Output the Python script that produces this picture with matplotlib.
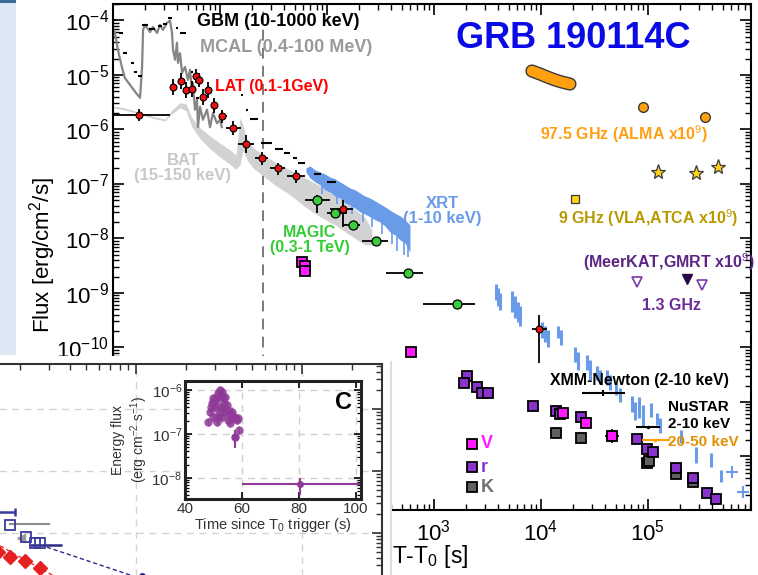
import numpy as np
import matplotlib.pyplot as plt
from matplotlib import font_manager
from matplotlib.ticker import LogLocator, NullFormatter, FixedLocator, FuncFormatter
from matplotlib.patches import Rectangle
from matplotlib.lines import Line2D

plt.rcParams['font.family'] = ['Liberation Sans', 'DejaVu Sans']
plt.rcParams['mathtext.fontset'] = 'custom'
plt.rcParams['mathtext.rm'] = 'Liberation Sans'
plt.rcParams['mathtext.it'] = 'Liberation Sans:italic'
plt.rcParams['mathtext.bf'] = 'Liberation Sans:bold'

# ---------------- main panel data (time [s], flux [erg/cm2/s]) ----------------
gbm_t = [1.04, 1.19, 1.29, 1.51, 1.61, 1.79, 1.99, 2.31, 2.75, 3.06, 3.41, 3.96, 4.51,
         5.47, 6.10, 6.23, 16.1, 17.9, 20.8, 27.5, 35.6, 42.3, 50.2, 58.4, 82.4, 111]
gbm_f = [1.02e-4, 5.9e-5, 2.5e-5, 1.66e-5, 1.14e-5, 9.6e-6, 8.3e-5, 7.0e-5, 7.9e-5, 8.6e-5,
         1.1e-4, 7.3e-5, 5.9e-5, 1.14e-5, 8.8e-6, 3.8e-6, 4.3e-6, 2.3e-6, 1.56e-6, 5.7e-7,
         4.4e-7, 3.7e-7, 3.0e-7, 2.4e-7, 1.5e-7, 1.09e-7]
gbm_dt = [0.03, 0.04, 0.05, 0.05, 0.05, 0.06, 0.12, 0.15, 0.1, 0.12, 0.12, 0.05, 0.3,
          0.1, 0.2, 0.2, 0.35, 0.5, 1.8, 3.3, 3.0, 3.0, 2.5, 4.5, 6.5, 11]

mcal_t = [1.00, 1.04, 1.11, 1.21, 1.29, 1.44, 1.61, 1.79, 1.87, 1.91, 1.99, 2.22, 2.36, 2.58,
          2.75, 2.93, 3.20, 3.41, 3.56, 3.64, 3.80, 3.96, 4.05, 4.23, 4.42, 4.71, 5.02, 5.24,
          5.47, 5.59, 5.84, 6.10, 6.23, 6.50, 6.93, 7.56, 8.07, 8.60, 9.37, 10.0, 10.4]
mcal_f = [7.0e-5, 6.1e-5, 2.9e-5, 1.4e-5, 8.8e-6, 6.6e-6, 4.9e-6, 3.8e-6, 1.4e-5, 6.7e-5,
          8.3e-5, 6.1e-5, 7.6e-5, 5.9e-5, 8.3e-5, 6.7e-5, 9.0e-5, 1.0e-4, 5.9e-5, 2.9e-5,
          1.9e-5, 3.9e-5, 1.66e-5, 2.5e-5, 1.09e-5, 1.4e-5, 8.1e-6, 1.24e-5, 5.3e-6, 7.1e-6,
          2.3e-6, 3.5e-6, 1.1e-6, 2.6e-6, 1.5e-6, 2.3e-6, 1.1e-6, 2.0e-6, 1.3e-6, 1.5e-6, 1.1e-6]

bat_t = [1.00, 1.29, 1.61, 1.99, 2.47, 3.06, 3.56, 4.23, 4.81, 5.47, 6.50, 8.07, 10.0, 12.4,
         14.1, 15.4, 16.4, 17.9, 20.4, 24.7, 32.6, 45.2, 62.5, 86.1, 118.8, 164.1, 226.5, 263.4]
bat_hi = [2.70e-6, 2.48e-6, 2.18e-6, 1.92e-6, 1.70e-6, 1.56e-6, 2.28e-6, 3.1e-6, 2.94e-6,
          1.63e-6, 1.07e-6, 7.6e-7, 5.6e-7, 4.2e-7, 3.4e-7, 1.63e-6, 1.21e-6, 6.4e-7, 4.6e-7,
          3.55e-7, 2.53e-7, 1.81e-7, 1.29e-7, 9.2e-8, 6.3e-8, 4.1e-8, 2.4e-8, 1.43e-8]
bat_lo = [2.48e-6, 2.28e-6, 2.01e-6, 1.77e-6, 1.56e-6, 1.43e-6, 1.95e-6, 2.50e-6, 2.20e-6,
          1.10e-6, 6.8e-7, 4.4e-7, 3.1e-7, 2.3e-7, 1.85e-7, 2.23e-7, 4.2e-7, 2.75e-7, 1.97e-7,
          1.46e-7, 9.6e-8, 6.3e-8, 3.8e-8, 2.5e-8, 1.77e-8, 1.16e-8, 7.6e-9, 7.6e-9]

lat_t = [1.75, 3.64, 4.32, 4.81, 5.47, 5.97, 6.37, 6.93, 7.72, 8.79, 10.4, 13.2, 17.5, 24.7,
         34.8, 51.3, 141, 9580]
lat_f = [1.85e-6, 6.0e-6, 7.8e-6, 5.3e-6, 5.5e-6, 9.6e-6, 8.1e-6, 3.95e-6, 5.3e-6, 2.82e-6,
         1.77e-6, 1.07e-6, 5.42e-7, 3.0e-7, 1.97e-7, 1.4e-7, 3.5e-8, 2.18e-10]
lat_tlo = [1.0, 3.45, 4.12, 4.6, 5.25, 5.75, 6.15, 6.7, 7.45, 8.5, 9.8, 11.4, 14.7, 21.2,
           29.3, 42.3, 107, 8240]
lat_thi = [3.41, 3.85, 4.55, 5.05, 5.7, 6.2, 6.6, 7.2, 8.0, 9.1, 11.6, 15.7, 20.8, 28.1,
           40.3, 62.5, 175, 11380]
lat_flo = [1.43e-6, 4.3e-6, 5.5e-6, 3.8e-6, 3.95e-6, 7.1e-6, 6.0e-6, 2.82e-6, 3.8e-6, 2.0e-6,
           1.32e-6, 7.9e-7, 3.7e-7, 2.23e-7, 1.46e-7, 1.04e-7, 1.63e-8, 5.2e-11]
lat_fhi = [2.38e-6, 8.45e-6, 1.09e-5, 7.4e-6, 7.8e-6, 1.29e-5, 1.09e-5, 5.5e-6, 7.4e-6, 3.8e-6,
           2.28e-6, 1.43e-6, 7.9e-7, 3.9e-7, 2.43e-7, 1.81e-7, 5.1e-8, 3.95e-10]

magic_t = [80.6, 119, 175, 287, 571, 1641]
magic_f = [5.1e-8, 2.9e-8, 1.77e-8, 9.0e-9, 2.33e-9, 6.3e-10]
magic_tlo = [62.5, 101, 138, 212, 356, 789]
magic_thi = [107, 153, 204, 372, 789, 2416]
magic_flo = [2.9e-8, 2.5e-8, 1.6e-8, 8.0e-9, 2.1e-9, 5.7e-10]
magic_fhi = [6.3e-8, 3.4e-8, 2.0e-8, 1.0e-8, 2.6e-9, 7.0e-10]

xrt_band_t = [63.6, 69.4, 77.3, 86.1, 95.8, 106.7, 118.8, 132.3, 147.3, 164.1, 182.7, 203.4,
              226.5, 252.3, 280.9, 312.8, 348.4, 388.0, 432.0, 481.2, 535.8, 596.7]
xrt_band_hi = [1.97e-7, 2.14e-7, 1.81e-7, 1.66e-7, 1.52e-7, 1.34e-7, 1.24e-7, 1.09e-7, 9.6e-8,
               8.4e-8, 7.8e-8, 6.8e-8, 6.0e-8, 5.5e-8, 4.9e-8, 4.3e-8, 3.8e-8, 3.3e-8, 2.9e-8,
               2.6e-8, 2.2e-8, 1.77e-8]
xrt_band_lo = [1.66e-7, 1.29e-7, 1.09e-7, 9.6e-8, 7.8e-8, 7.1e-8, 6.0e-8, 5.5e-8, 4.5e-8,
               4.1e-8, 3.6e-8, 3.06e-8, 2.8e-8, 2.5e-8, 2.2e-8, 2.0e-8, 1.69e-8, 1.31e-8,
               1.16e-8, 9.4e-9, 8.3e-9, 5.6e-9]
# streaks hanging below the dense XRT band
xrt_streak_t = [90, 125, 170, 215, 265, 330, 405, 455, 520, 570]
xrt_streak_hi = [1.2e-7, 8.0e-8, 6.0e-8, 4.5e-8, 3.8e-8, 3.0e-8, 2.0e-8, 1.6e-8, 1.2e-8, 9.0e-9]
xrt_streak_lo = [6.5e-8, 4.2e-8, 2.8e-8, 2.0e-8, 1.6e-8, 1.2e-8, 8.0e-9, 6.0e-9, 5.0e-9, 4.5e-9]

xrt_t = [3797, 3964, 4139, 5358, 5715, 6095, 6364, 10216, 10897, 11628, 14416, 15382, 20792,
         22174, 26914, 28706, 33380, 35600, 41390, 44150, 50220, 54730, 70890, 75600, 82410,
         89800, 106700, 121400, 129500, 203400, 280900, 388000, 481200]
xrt_hi = [1.46e-9, 1.24e-9, 1.0e-9, 1.09e-9, 8.8e-10, 6.8e-10, 5.8e-10, 2.9e-10, 2.48e-10,
          2.1e-10, 2.48e-10, 2.1e-10, 1.02e-10, 8.3e-11, 7.3e-11, 5.9e-11, 4.6e-11, 3.9e-11,
          3.9e-11, 3.1e-11, 2.23e-11, 1.81e-11, 1.29e-11, 1.0e-11, 1.24e-11, 8.8e-12, 9.6e-12,
          6.3e-12, 5.1e-12, 3.06e-12, 1.49e-12, 1.16e-12, 5.6e-13]
xrt_lo = [7.4e-10, 5.8e-10, 4.9e-10, 4.5e-10, 3.5e-10, 2.9e-10, 2.48e-10, 1.49e-10, 1.26e-10,
          1.02e-10, 1.49e-10, 1.11e-10, 5.4e-11, 3.9e-11, 3.9e-11, 2.5e-11, 2.5e-11, 2.14e-11,
          2.05e-11, 1.66e-11, 1.34e-11, 1.0e-11, 6.6e-12, 4.7e-12, 5.1e-12, 3.5e-12, 5.3e-12,
          3.8e-12, 2.7e-12, 1.77e-12, 7.6e-13, 6.4e-13, 3.4e-13]
xrt_cross_t = [609500, 772800]
xrt_cross_f = [5.2e-13, 2.23e-13]

opt_r_t = [2034, 1907, 2523, 2811, 3199, 8420, 13800, 15060, 23660, 78900, 97900, 111400,
           182800, 263600, 356000, 432100]
opt_r_f = [3.0e-11, 2.23e-11, 1.88e-11, 1.46e-11, 1.46e-11, 8.4e-12, 6.8e-12, 6.0e-12, 5.3e-12,
           2.1e-12, 1.37e-12, 1.21e-12, 6.2e-13, 4.0e-13, 2.14e-13, 1.66e-13]
opt_v_t = [58.4, 62.3, 62.3, 610, 16060, 26340, 46100]
opt_v_f = [3.7e-9, 3.1e-9, 2.5e-9, 8.3e-11, 6.3e-12, 4.1e-12, 2.4e-12]
opt_k_t = [13800, 23660, 97900, 102100, 182800, 263600]
opt_k_f = [2.7e-12, 2.2e-12, 7.6e-13, 8.3e-13, 4.8e-13, 3.4e-13]

xmm_t, xmm_tlo, xmm_thi, xmm_f = 37960, 24160, 60980, 1.46e-11
nustar_t, nustar_tlo, nustar_thi, nustar_f = 100000, 77270, 129500, 3.5e-12
nustar_hard_t, nustar_hard_tlo, nustar_hard_thi, nustar_hard_f = 116200, 87900, 160600, 2.0e-12

alma_curve_t = [8240, 9790, 11380, 13510, 15710, 18670]
alma_curve_f = [1.18e-5, 1.04e-5, 9.2e-6, 8.1e-6, 7.4e-6, 6.8e-6]
alma_t = [89800, 341000]
alma_f = [2.59e-6, 1.70e-6]
vla_star_t = [124000, 281000, 451000]
vla_star_f = [1.66e-7, 1.59e-7, 2.05e-7]
vla_sq_t, vla_sq_f = 20790, 5.3e-8
meer_open_t = [78900, 319800]
meer_open_f = [1.59e-9, 1.40e-9]
meer_fill_t, meer_fill_f = 231300, 1.81e-9

# ---------------- lower-left panel data ----------------
lp_sq_t = [1.74, 2.17, 2.46, 2.64]
lp_sq_f = [1.35e-7, 8.6e-8, 6.9e-8, 6.9e-8]
lp_edge_t, lp_edge_thi, lp_edge_f = 1.42, 1.87, 2.18e-7
lp_sqbar_t, lp_sqbar_tlo, lp_sqbar_thi, lp_sqbar_f = 2.64, 2.3, 3.58, 6.5e-8
lp_model_t = [2.91, 21.1]
lp_model_f = [5.9e-8, 1.0e-8]
lp_bin_t, lp_bin_tlo, lp_bin_thi, lp_bin_f = 10.9, 3.63, 17.7, 2.02e-8
lp_grey_t = [1.74, 2.99]
lp_grey_f = [1.40e-7, 1.40e-7]
lp_grey_arrow_t, lp_grey_arrow_f = 2.03, 8.3e-8
lp_red_t = [1.48, 1.74, 2.14, 2.64]
lp_red_f = [4.9e-8, 4.1e-8, 3.5e-8, 2.7e-8]
lp_red_line_t = [1.52, 4.0]
lp_red_line_f = [6.2e-8, 1.45e-8]

# inset C
c_t = [48.1, 48.8, 49.5, 49.8, 50.5, 51.2, 51.6, 52.3, 53.0, 53.3, 54.0, 54.7, 55.1, 55.8,
       56.5, 56.8, 57.5, 58.2, 58.6, 51.6, 53.0, 49.8, 51.2, 52.3, 54.0, 55.1, 55.8, 58.9,
       49.0, 50.0, 50.8, 52.8, 53.8, 52.0, 53.5, 56.0, 57.0]
c_f = [1.87e-7, 3.2e-7, 5.1e-7, 6.6e-7, 4.1e-7, 6.9e-7, 8.5e-7, 1.0e-6, 9.0e-7, 6.6e-7,
       6.9e-7, 4.6e-7, 3.5e-7, 2.7e-7, 3.2e-7, 2.4e-7, 2.3e-7, 2.1e-7, 2.3e-7, 2.4e-7,
       2.4e-7, 2.4e-7, 1.87e-7, 4.1e-7, 3.2e-7, 2.1e-7, 1.78e-7, 1.23e-7,
       4.0e-7, 5.5e-7, 6.0e-7, 7.5e-7, 5.0e-7, 3.0e-7, 3.8e-7, 2.2e-7, 2.6e-7]
c_iso_t, c_iso_f, c_iso_flo, c_iso_fhi = 57.5, 8.5e-8, 4.8e-8, 1.23e-7
c_late_t, c_late_tlo, c_late_thi = 80.4, 60.0, 102.0
c_late_f, c_late_flo, c_late_fhi = 7.3e-9, 4.1e-9, 1.0e-8

W, H = 758, 575


def fr(x0, y0, x1, y1):
    return [x0 / W, 1 - y1 / H, (x1 - x0) / W, (y1 - y0) / H]


def ftext(x, y, s, **kw):
    kw.setdefault('va', 'center')
    kw.setdefault('ha', 'left')
    return fig.text(x / W, 1 - y / H, s, **kw)


def asym(v, lo, hi):
    v, lo, hi = np.asarray(v), np.asarray(lo), np.asarray(hi)
    return [v - lo, hi - v]


def decade_label(lo, hi):
    # only decades that are not hidden behind the overlapping panel get a label
    def f(v, pos):
        if v <= 0:
            return ''
        e = int(round(np.log10(v)))
        if lo <= e <= hi:
            return r'$\mathdefault{10^{%d}}$' % e
        return ''
    return FuncFormatter(f)


fig = plt.figure(figsize=(7.58, 5.75), dpi=100)

# ---------------- main panel ----------------
ax = fig.add_axes(fr(113, 4, 751, 510))
ax.set_xscale('log')
ax.set_yscale('log')
ax.set_xlim(1, 9.2e5)
ax.set_ylim(1.04e-13, 2.0e-4)
for a in (ax.xaxis, ax.yaxis):
    a.set_major_locator(LogLocator(base=10, numticks=30))
    a.set_minor_locator(LogLocator(base=10, subs=np.arange(2, 10), numticks=300))
    a.set_minor_formatter(NullFormatter())
ax.xaxis.set_major_formatter(decade_label(3, 6))
ax.yaxis.set_major_formatter(decade_label(-10, -4))
ax.tick_params(which='both', direction='in', top=True, right=True, labelsize=16)
ax.tick_params(which='major', length=8, width=1.2)
ax.tick_params(which='minor', length=4, width=1)
ax.tick_params(axis='y', pad=3)
ax.tick_params(axis='x', pad=7)
for s in ax.spines.values():
    s.set_linewidth(1.5)

ax.axvline(25.2, color='#707070', ls=(0, (6, 4)), lw=1.3, zorder=1)

ax.fill_between(bat_t, bat_lo, bat_hi, color='#d2d2d2', lw=0, zorder=1)
ax.plot(mcal_t, mcal_f, color='#858585', lw=1.6, zorder=2)
ax.fill_between(xrt_band_t, xrt_band_lo, xrt_band_hi, color='#6a9be8', lw=0, zorder=2)
ax.vlines(xrt_streak_t, xrt_streak_lo, xrt_streak_hi, color='#6a9be8', lw=1.2, zorder=2)
ax.vlines(xrt_t, xrt_lo, xrt_hi, color='#6a9be8', lw=2.2, zorder=2)
ax.plot(xrt_cross_t, xrt_cross_f, '+', color='#6a9be8', ms=8, mew=1.5, zorder=2)

ax.errorbar(gbm_t, gbm_f, xerr=gbm_dt, fmt='none', ecolor='black', elinewidth=1.5, zorder=3)

ax.errorbar(lat_t, lat_f, xerr=asym(lat_t, lat_tlo, lat_thi), yerr=asym(lat_f, lat_flo, lat_fhi),
            fmt='o', ms=5, mfc='#ee1111', mec='black', mew=0.8, ecolor='black', elinewidth=1.3,
            zorder=5)
ax.errorbar(magic_t, magic_f, xerr=asym(magic_t, magic_tlo, magic_thi),
            yerr=asym(magic_f, magic_flo, magic_fhi), fmt='o', ms=6.5, mfc='#3ccc3c',
            mec='black', mew=0.9, ecolor='black', elinewidth=1.3, zorder=5)

sq = dict(marker='s', ls='none', ms=6.5, mec='black', mew=1.3, zorder=4)
ax.plot(opt_k_t, opt_k_f, mfc='#606060', **sq)
ax.plot(opt_r_t, opt_r_f, mfc='#8a33cc', **sq)
ax.plot(opt_v_t, opt_v_f, mfc='#ff1aff', **sq)
ax.errorbar([opt_v_t[-1]], [opt_v_f[-1]], xerr=[[6500], [7600]], yerr=[[0.6e-12], [0.8e-12]],
            fmt='none', ecolor='black', elinewidth=1.2, zorder=3)

ax.errorbar([xmm_t], [xmm_f], xerr=asym([xmm_t], [xmm_tlo], [xmm_thi]), yerr=[[0.15e-11], [0.2e-11]],
            fmt='none', ecolor='black', elinewidth=1.5, zorder=4)
ax.errorbar([nustar_t], [nustar_f], xerr=asym([nustar_t], [nustar_tlo], [nustar_thi]),
            fmt='.', ms=3, color='black', elinewidth=1.5, zorder=4)
ax.errorbar([nustar_hard_t], [nustar_hard_f],
            xerr=asym([nustar_hard_t], [nustar_hard_tlo], [nustar_hard_thi]),
            fmt='.', ms=3, color='#ffa000', elinewidth=1.5, zorder=4)

ax.plot(alma_curve_t, alma_curve_f, color='#3a3a3a', lw=9.5, solid_capstyle='round', zorder=4)
ax.plot(alma_curve_t, alma_curve_f, color='#ffa010', lw=7.5, solid_capstyle='round', zorder=4)
ax.plot(alma_t, alma_f, 'o', ms=7, mfc='#ffa010', mec='#3a3a3a', mew=1, zorder=4)
ax.plot(vla_star_t, vla_star_f, '*', ms=11, mfc='#ffd21a', mec='#3a3a3a', mew=0.9, zorder=4)
ax.plot([vla_sq_t], [vla_sq_f], 's', ms=6, mfc='#ffd21a', mec='#3a3a3a', mew=0.9, zorder=4)
ax.plot(meer_open_t, meer_open_f, 'v', ms=7, mfc='white', mec='#7a3aa8', mew=1.2, zorder=4)
ax.plot([meer_fill_t], [meer_fill_f], 'v', ms=7, mfc='#2a0a4a', mec='#2a0a4a', zorder=4)

# legend for optical bands
for yy, col, lab, tcol in [(444, '#ff1aff', 'V', '#ff1aff'), (467, '#8a33cc', 'r', '#8a33cc'),
                           (487, '#606060', 'K', '#707070')]:
    ax.plot([(472 - 113) / 638], [(510 - yy) / 506], 's', transform=ax.transAxes, ms=6.5,
            mfc=col, mec='black', mew=1.3, clip_on=False, zorder=6)
    ftext(481, yy, lab, color=tcol, fontsize=13, weight='bold')

# labels of the main panel
ftext(197, 22, 'GBM (10-1000 keV)', fontsize=13, weight='bold')
ftext(200, 48, 'MCAL (0.4-100 MeV)', fontsize=13, weight='bold', color='#9a9a9a')
ftext(215, 86, 'LAT (0.1-1GeV)', fontsize=11.5, weight='bold', color='#ff0000')
ftext(183, 168, 'BAT\n(15-150 keV)', fontsize=12, weight='bold', color='#c8c8c8', ha='center',
      linespacing=1.0, multialignment='center')
ftext(310, 240, 'MAGIC\n(0.3-1 TeV)', fontsize=11.5, weight='bold', color='#33cc33', ha='center',
      linespacing=1.0, multialignment='center')
ftext(442, 211, 'XRT\n(1-10 keV)', fontsize=12, weight='bold', color='#6a9be8', ha='center',
      linespacing=1.0, multialignment='center')
ftext(540, 134, '97.5 GHz (ALMA x10$^{9}$)', fontsize=11.5, weight='bold', color='#ffa010')
ftext(558, 218, '9 GHz (VLA,ATCA x10$^{9}$)', fontsize=11.5, weight='bold', color='#b89a00')
ftext(583, 262, '(MeerKAT,GMRT x10$^{9}$)', fontsize=11.5, weight='bold', color='#5c2483')
ftext(642, 305, '1.3 GHz', fontsize=11.5, weight='bold', color='#6a2c9a')
ftext(550, 380, 'XMM-Newton (2-10 keV)', fontsize=11.4, weight='bold')
ftext(668, 407, 'NuSTAR', fontsize=11, weight='bold')
ftext(668, 424, '2-10 keV', fontsize=11, weight='bold')
ftext(668, 442, '20-50 keV', fontsize=11, weight='bold', color='#e09000')

names = {f.name for f in font_manager.fontManager.ttflist}
if 'Liberation Sans Narrow' in names:
    ftext(573, 38, 'GRB 190114C', fontsize=30, weight='bold', color='#0a0ae6', ha='center',
          family='Liberation Sans Narrow')
else:
    ftext(573, 38, 'GRB 190114C', fontsize=26, weight='bold', color='#0a0ae6', ha='center')
ftext(43, 255, 'Flux [erg/cm$^2$/s]', fontsize=16, rotation=90, ha='center')
ftext(392, 557, 'T-T$_0$ [s]', fontsize=16.5)

# pale blue slide strip at top-left
fig.add_artist(Rectangle((0, 1 - 355 / H), 16 / W, 355 / H, transform=fig.transFigure,
                         facecolor='#dce8f4', edgecolor='none', zorder=1))
fig.add_artist(Rectangle((0, 1 - 3 / H), 16 / W, 3 / H, transform=fig.transFigure,
                         facecolor='#3d6b99', edgecolor='none', zorder=1))

# white cover of the overlapping lower panel
cover = fig.add_axes(fr(0, 356, 392, 575))
cover.set_zorder(5)
cover.set_xticks([])
cover.set_yticks([])
for s in cover.spines.values():
    s.set_visible(False)
cover.patch.set_facecolor('white')
fig.add_artist(Line2D([391 / W, 391 / W], [0, 1 - 362 / H], transform=fig.transFigure,
                      color='#dcdcdc', lw=1.5, zorder=5.5))

# ---------------- lower-left panel ----------------
lp = fig.add_axes(fr(-50, 364, 382, 600))
lp.set_zorder(6)
lp.set_xscale('log')
lp.set_yscale('log')
lp.set_xlim(0.758, 303.4)
lp.set_ylim(8.3e-9, 5.32e-5)
for a in (lp.xaxis, lp.yaxis):
    a.set_major_locator(LogLocator(base=10, numticks=30))
    a.set_minor_locator(LogLocator(base=10, subs=np.arange(2, 10), numticks=300))
    a.set_major_formatter(NullFormatter())
    a.set_minor_formatter(NullFormatter())
lp.tick_params(which='both', direction='in', top=True, right=True, labelbottom=False,
               labelleft=False, color='#333333')
lp.tick_params(which='major', length=7, width=1.2)
lp.tick_params(which='minor', length=4, width=1)
lp.grid(True, which='major', ls=(0, (5, 4)), color='#d4d4d4', lw=1)
for s in lp.spines.values():
    s.set_linewidth(1.5)
    s.set_color('#333333')

lp.plot(lp_grey_t, lp_grey_f, color='#8c8c8c', lw=1.5)
lp.plot([lp_grey_arrow_t], [lp_grey_arrow_f], '<', color='#9a9a9a', ms=6)
lp.plot(lp_model_t, lp_model_f, color='#2a2a88', lw=1, ls=(0, (3, 2)))
lp.plot(lp_red_line_t, lp_red_line_f, color='#ee3333', lw=1, ls=(0, (3, 2)))
lp.errorbar([lp_edge_t], [lp_edge_f], xerr=[[0.2], [lp_edge_thi - lp_edge_t]], fmt='none',
            ecolor='#3a3a9a', elinewidth=1.8, capsize=3, capthick=1.8)
lp.errorbar([lp_sqbar_t], [lp_sqbar_f], xerr=asym([lp_sqbar_t], [lp_sqbar_tlo], [lp_sqbar_thi]),
            fmt='none', ecolor='#2a2a88', elinewidth=1.8)
lp.plot(lp_sq_t, lp_sq_f, 's', ms=7, mfc='none', mec='#3a3a9a', mew=1.3)
lp.errorbar([lp_bin_t], [lp_bin_f], xerr=asym([lp_bin_t], [lp_bin_tlo], [lp_bin_thi]), fmt='o',
            ms=4, color='#2a2a88', elinewidth=1.3)
lp.plot(lp_red_t, lp_red_f, 'D', ms=7, color='#e52020', mec='#e52020')

# ---------------- inset C ----------------
ins = fig.add_axes(fr(185, 381, 361, 499))
ins.set_zorder(7)
ins.set_yscale('log')
ins.set_xlim(40, 101.75)
ins.set_ylim(3.33e-9, 1.6e-6)
ins.xaxis.set_major_locator(FixedLocator([40, 60, 80, 100]))
ins.yaxis.set_major_locator(LogLocator(base=10, numticks=10))
ins.yaxis.set_minor_locator(LogLocator(base=10, subs=np.arange(2, 10), numticks=100))
ins.yaxis.set_minor_formatter(NullFormatter())
ins.tick_params(which='both', direction='in', right=True, top=True, labelsize=11,
                labelcolor='#333333', pad=2)
ins.tick_params(which='major', length=5, width=1.2)
ins.tick_params(which='minor', length=3, width=0.9)
ins.grid(True, which='major', ls=(0, (5, 4)), color='#d0d0d0', lw=1)
for s in ins.spines.values():
    s.set_linewidth(2.2)
    s.set_color('#222222')
ins.set_xlabel('Time since T$_0$ trigger (s)', fontsize=10.5, color='#333333', labelpad=0)
ins.set_ylabel('Energy flux\n(erg cm$^{-2}$ s$^{-1}$)', fontsize=10, color='#333333', labelpad=1)

pc = '#8e3a96'
ins.errorbar(c_t, c_f, yerr=[np.array(c_f) * 0.2, np.array(c_f) * 0.25], fmt='o', ms=6,
             color=pc, alpha=0.85, elinewidth=1, mew=0)
ins.errorbar([c_iso_t], [c_iso_f], yerr=asym([c_iso_f], [c_iso_flo], [c_iso_fhi]), fmt='o', ms=5,
             color=pc, elinewidth=1.5)
ins.errorbar([c_late_t], [c_late_f], xerr=asym([c_late_t], [c_late_tlo], [c_late_thi]),
             yerr=asym([c_late_f], [c_late_flo], [c_late_fhi]), fmt='o', ms=4, color=pc,
             elinewidth=1.5, clip_on=True)
ins.text(0.898, 0.822, 'C', transform=ins.transAxes, fontsize=17, weight='bold',
         ha='center', va='center')

fig.savefig('out.png', dpi=100)
